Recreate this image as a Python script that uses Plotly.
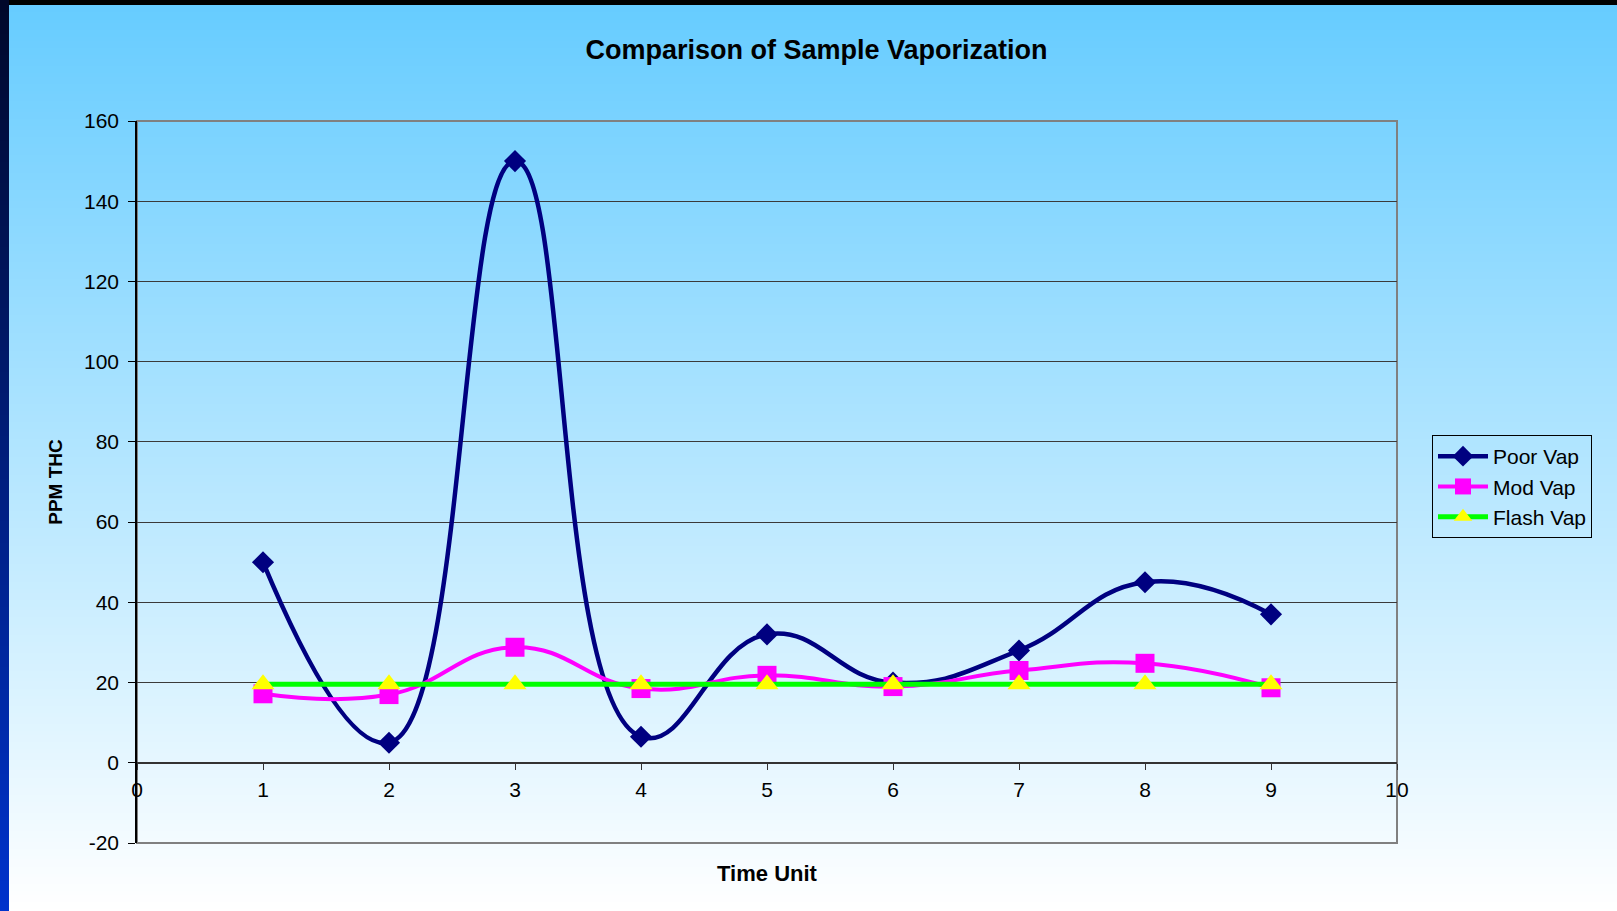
import zlib, struct, base64
import plotly.graph_objects as go

# ---------------- data ----------------
time_units = [1, 2, 3, 4, 5, 6, 7, 8, 9]
poor_vap = [50, 5, 150, 6.5, 32, 20, 28, 45, 37]
mod_vap = [17.2, 17.0, 28.8, 18.5, 21.8, 19.0, 23.0, 24.8, 18.7]
flash_vap = [19.6, 19.6, 19.6, 19.6, 19.6, 19.6, 19.6, 19.6, 19.6]
x_ticks = [0, 1, 2, 3, 4, 5, 6, 7, 8, 9, 10]
y_ticks = [-20, 0, 20, 40, 60, 80, 100, 120, 140, 160]

# ---------------- layout geometry ----------------
W, H = 1617, 911
ML, MR, MT, MB = 137, 220, 121, 68
PW, PH = W - ML - MR, H - MT - MB


def px_x(px):
    return (px - ML) / PW


def px_y(py):
    return 1 - (py - MT) / PH


def png_uri(w, rows):
    raw = b''.join(b'\x00' + bytes(c for px in row for c in px) for row in rows)

    def chunk(t, d):
        c = struct.pack('>I', len(d)) + t + d
        return c + struct.pack('>I', zlib.crc32(t + d) & 0xffffffff)

    png = (b'\x89PNG\r\n\x1a\n'
           + chunk(b'IHDR', struct.pack('>IIBBBBB', w, len(rows), 8, 2, 0, 0, 0))
           + chunk(b'IDAT', zlib.compress(raw))
           + chunk(b'IEND', b''))
    return 'data:image/png;base64,' + base64.b64encode(png).decode()


def vgrad(c0, c1, n=256):
    rows = []
    for i in range(n):
        t = i / (n - 1)
        rows.append([tuple(int(round(a + (b - a) * t)) for a, b in zip(c0, c1))])
    return rows


bg_uri = png_uri(1, vgrad((0x66, 0xCC, 0xFF), (0xFF, 0xFF, 0xFF)))
strip_uri = png_uri(1, vgrad((0x00, 0x08, 0x2A), (0x00, 0x33, 0xCC)))

fig = go.Figure()
fig.add_trace(go.Scatter(
    x=time_units, y=poor_vap, name='Poor Vap', mode='lines+markers',
    line=dict(color='#000080', width=4.5, shape='spline', smoothing=1.3),
    marker=dict(symbol='diamond', size=17, color='#000080')))
fig.add_trace(go.Scatter(
    x=time_units, y=mod_vap, name='Mod Vap', mode='lines+markers',
    line=dict(color='#FF00FF', width=4, shape='spline', smoothing=1.3),
    marker=dict(symbol='square', size=19, color='#FF00FF')))
fig.add_trace(go.Scatter(
    x=time_units, y=flash_vap, name='Flash Vap', mode='lines+markers',
    line=dict(color='#00FF00', width=5, shape='spline', smoothing=1.3),
    marker=dict(symbol='triangle-up', size=20, color='#FFFF00')))

FONT = 'Liberation Sans, Arial, sans-serif'

fig.update_layout(
    width=W, height=H,
    margin=dict(l=ML, r=MR, t=MT, b=MB, autoexpand=False),
    paper_bgcolor='#66CCFF', plot_bgcolor='rgba(0,0,0,0)',
    font=dict(family=FONT, color='black', size=21),
    title=dict(text='<b>Comparison of Sample Vaporization</b>',
               font=dict(family=FONT, size=27, color='black'),
               x=816.5 / W, xanchor='center', xref='container',
               y=1 - 50 / H, yanchor='middle'),
    showlegend=True,
    legend=dict(x=px_x(1432), y=px_y(435), xanchor='left', yanchor='top',
                bgcolor='rgba(0,0,0,0)', bordercolor='black', borderwidth=1,
                font=dict(family=FONT, size=21, color='black'),
                itemwidth=50, tracegroupgap=0),
    images=[
        dict(source=bg_uri, xref='paper', yref='paper',
             x=px_x(0), y=px_y(0), sizex=W / PW, sizey=H / PH,
             sizing='stretch', layer='below', xanchor='left', yanchor='top'),
        dict(source=strip_uri, xref='paper', yref='paper',
             x=px_x(0), y=px_y(0), sizex=9 / PW, sizey=H / PH,
             sizing='stretch', layer='below', xanchor='left', yanchor='top'),
    ],
    shapes=[
        dict(type='rect', xref='paper', yref='paper',
             x0=px_x(9), x1=px_x(W), y0=px_y(0), y1=px_y(5),
             fillcolor='black', line=dict(width=0), layer='below'),
        dict(type='rect', xref='paper', yref='paper',
             x0=0, x1=1, y0=0, y1=1,
             line=dict(color='#808080', width=2), layer='below'),
    ],
)

fig.update_xaxes(
    range=[0, 10], tickvals=x_ticks, ticktext=[str(v) for v in x_ticks],
    anchor='free', position=20 / 180, side='bottom',
    showline=True, linecolor='#333333', linewidth=1.5,
    ticks='outside', ticklen=6, tickcolor='#333333', ticklabelstandoff=2,
    showgrid=False, zeroline=False,
    tickfont=dict(family=FONT, size=21, color='black'),
    title=dict(text='<b>Time Unit</b>', standoff=65,
               font=dict(family=FONT, size=22, color='black')),
)
fig.update_yaxes(
    range=[-20, 160], tickvals=y_ticks, ticktext=[str(v) for v in y_ticks],
    showline=True, linecolor='black', linewidth=1.5,
    ticks='outside', ticklen=7, tickcolor='black', ticklabelstandoff=5,
    showgrid=True, gridcolor='#3a3a3a', gridwidth=1, zeroline=False,
    tickfont=dict(family=FONT, size=21, color='black'),
    title=dict(text='<b>PPM THC</b>', standoff=16,
               font=dict(family=FONT, size=19, color='black')),
)

fig.write_html('out.html', config={'displayModeBar': False},
               post_script="document.body.style.margin='0';document.body.style.padding='0';")
